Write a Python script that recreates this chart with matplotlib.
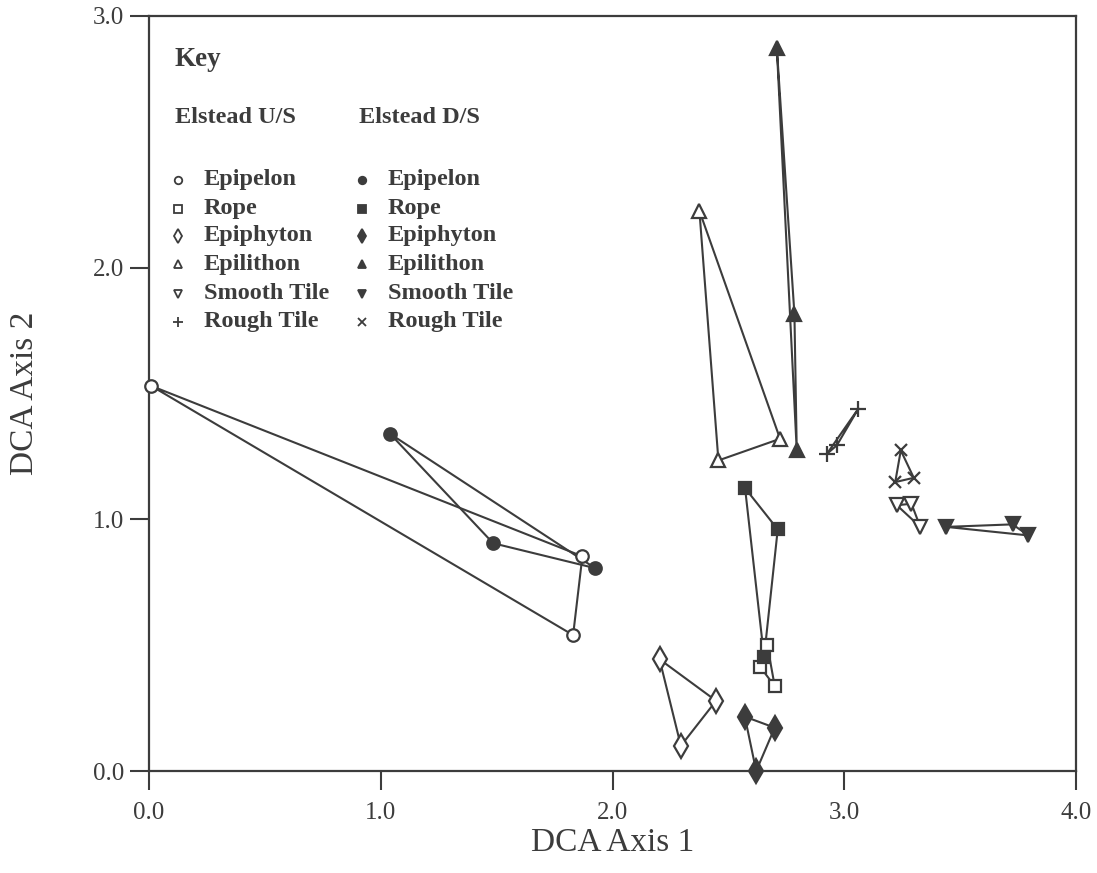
import matplotlib
matplotlib.use("Agg")
import matplotlib.pyplot as plt

# ---- data ----
us_epipelon_x = [0.01, 1.87, 1.83]
us_epipelon_y = [1.53, 0.853, 0.54]
ds_epipelon_x = [1.04, 1.485, 1.925]
ds_epipelon_y = [1.34, 0.905, 0.806]

us_rope_x = [2.668, 2.637, 2.70]
us_rope_y = [0.50, 0.414, 0.337]
ds_rope_x = [2.572, 2.713, 2.654]
ds_rope_y = [1.124, 0.96, 0.453]

us_epiphyton_x = [2.203, 2.447, 2.295]
us_epiphyton_y = [0.444, 0.279, 0.10]
ds_epiphyton_x = [2.571, 2.70, 2.62]
ds_epiphyton_y = [0.216, 0.172, 0.0]

us_epilithon_x = [2.375, 2.457, 2.723]
us_epilithon_y = [2.226, 1.234, 1.32]
ds_epilithon_x = [2.709, 2.785, 2.795]
ds_epilithon_y = [2.874, 1.816, 1.274]

us_smooth_x = [3.227, 3.29, 3.328]
us_smooth_y = [1.056, 1.062, 0.97]
ds_smooth_x = [3.44, 3.726, 3.795]
ds_smooth_y = [0.97, 0.98, 0.936]

us_rough_x = [3.061, 2.968, 2.925]
us_rough_y = [1.44, 1.294, 1.26]
ds_rough_x = [3.244, 3.22, 3.30]
ds_rough_y = [1.274, 1.148, 1.165]

categories = ["Epipelon", "Rope", "Epiphyton", "Epilithon", "Smooth Tile", "Rough Tile"]
site_labels = ["Elstead U/S", "Elstead D/S"]
x_ticks = [0.0, 1.0, 2.0, 3.0, 4.0]
y_ticks = [0.0, 1.0, 2.0, 3.0]
x_tick_labels = ["0.0", "1.0", "2.0", "3.0", "4.0"]
y_tick_labels = ["0.0", "1.0", "2.0", "3.0"]

# ---- style ----
INK = "#3c3c3c"
plt.rcParams["font.family"] = ["Liberation Serif", "DejaVu Serif"]

fig = plt.figure(figsize=(10.97, 8.73), dpi=100)
ax = fig.add_axes([149 / 1097, (873 - 771) / 873, 927 / 1097, 755 / 873])
ax.set_xlim(0, 4)
ax.set_ylim(0, 3)

us_groups = [(us_epipelon_x, us_epipelon_y), (us_rope_x, us_rope_y),
             (us_epiphyton_x, us_epiphyton_y), (us_epilithon_x, us_epilithon_y),
             (us_smooth_x, us_smooth_y), (us_rough_x, us_rough_y)]
ds_groups = [(ds_epipelon_x, ds_epipelon_y), (ds_rope_x, ds_rope_y),
             (ds_epiphyton_x, ds_epiphyton_y), (ds_epilithon_x, ds_epilithon_y),
             (ds_smooth_x, ds_smooth_y), (ds_rough_x, ds_rough_y)]

# marker styles: (marker, size, filled)
us_marks = [("o", 9, False), ("s", 9, False), ("d", 12, False),
            ("^", 10, False), ("v", 10, False), ("+", 11, False)]
ds_marks = [("o", 9, True), ("s", 9, True), ("d", 12, True),
            ("^", 10, True), ("v", 10, True), ("x", 9, True)]


def draw(groups, marks):
    for (xs, ys), (m, s, filled) in zip(groups, marks):
        xc = list(xs) + [xs[0]]
        yc = list(ys) + [ys[0]]
        ax.plot(xc, yc, color=INK, lw=1.5, zorder=2, clip_on=False)
        ax.plot(xs, ys, linestyle="none", marker=m, markersize=s,
                markerfacecolor=INK if filled else "white",
                markeredgecolor=INK, markeredgewidth=1.6, zorder=3, clip_on=False)


draw(us_groups, us_marks)
draw(ds_groups, ds_marks)

# ---- key (drawn inside the axes) ----
tf = ax.transAxes
ax.text(0.028, 0.942, "Key", transform=tf, fontsize=19.5, fontweight="bold",
        color=INK, va="center", ha="left")
ax.text(0.028, 0.865, site_labels[0], transform=tf, fontsize=17.5, fontweight="bold",
        color=INK, va="center", ha="left")
ax.text(0.226, 0.865, site_labels[1], transform=tf, fontsize=17.5, fontweight="bold",
        color=INK, va="center", ha="left")
row_y = [0.783, 0.745, 0.709, 0.671, 0.632, 0.595]
for i, cat in enumerate(categories):
    for col, marks in enumerate([us_marks, ds_marks]):
        m, s, filled = marks[i]
        mx = 0.0313 if col == 0 else 0.2298
        tx = 0.0593 if col == 0 else 0.2578
        ax.plot([mx], [row_y[i]], transform=tf, linestyle="none", marker=m,
                markersize=s * 0.6, markerfacecolor=INK if filled else "white",
                markeredgecolor=INK, markeredgewidth=1.3, clip_on=False)
        ax.text(tx, row_y[i], cat, transform=tf, fontsize=17.5, fontweight="bold",
                color=INK, va="center", ha="left")

# ---- axes styling ----
for sp in ax.spines.values():
    sp.set_color(INK)
    sp.set_linewidth(1.6)
ax.set_xticks(x_ticks)
ax.set_xticklabels(x_tick_labels)
ax.set_yticks(y_ticks)
ax.set_yticklabels(y_tick_labels)
ax.tick_params(direction="out", length=14, width=1.5, color=INK,
               labelsize=18, labelcolor=INK)
ax.tick_params(axis="x", pad=8)
ax.tick_params(axis="y", pad=4)
ax.set_xlabel("DCA Axis 1", fontsize=24, color=INK, labelpad=3)
ax.set_ylabel("DCA Axis 2", fontsize=24, color=INK, labelpad=38)

fig.savefig("out.png", dpi=100, facecolor="white")
